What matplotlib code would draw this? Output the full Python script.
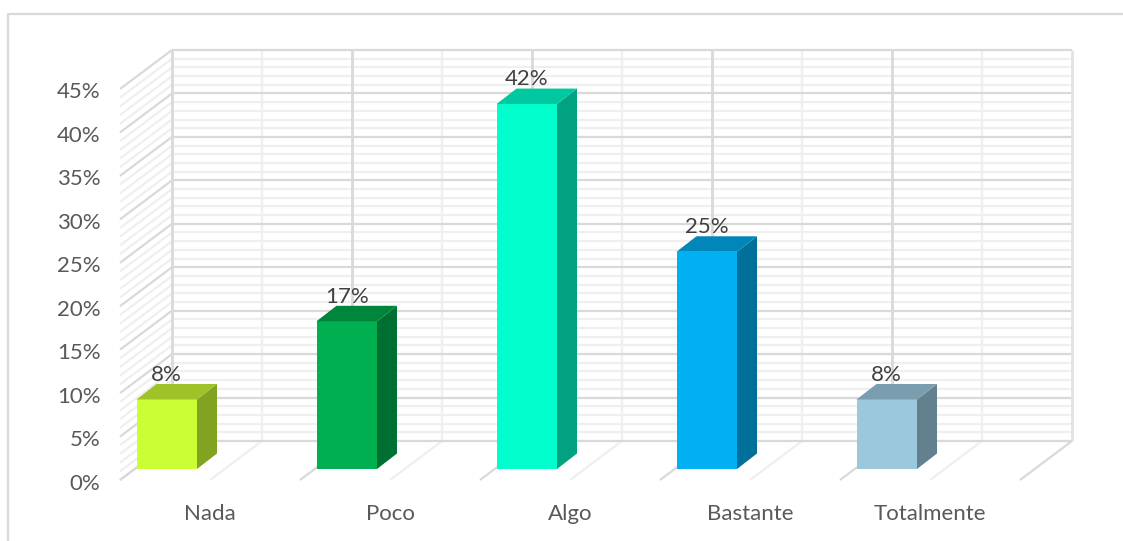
import matplotlib
matplotlib.use('Agg')
import matplotlib.pyplot as plt
import matplotlib.transforms as mtrans
from matplotlib.lines import Line2D

categories = ['Nada', 'Poco', 'Algo', 'Bastante', 'Totalmente']
values = [8, 17, 42, 25, 8]
value_labels = ['8%', '17%', '42%', '25%', '8%']
y_ticks = [0, 5, 10, 15, 20, 25, 30, 35, 40, 45]

front_colors = ['#CCFF33', '#00B050', '#00FFCC', '#00B0F0', '#9BC8DD']
top_colors = ['#9FC229', '#00853D', '#00C9A1', '#0086B8', '#7A9EAF']
side_colors = ['#82A321', '#006F32', '#00A282', '#006F99', '#63808E']

W, H = 1123, 541
PX_X = 180.0            # pixels per category
PX_Y = 391.0 / 45.0     # pixels per percent

fig = plt.figure(figsize=(W / 100, H / 100), dpi=100)
ax = fig.add_axes([120 / W, (H - 480) / H, 900 / W, 391 / H])
ax.set_xlim(0, 5)
ax.set_ylim(0, 45)
for s in ax.spines.values():
    s.set_visible(False)

# depth of the wall and of the bars, in data units
wall_dx, wall_dy = 52 / PX_X, 39 / PX_Y
bar_dx, bar_dy = 20 / PX_X, 15.5 / PX_Y
bar_gap = 16.5 / PX_X
bar_w = 60.5 / PX_X
bar_base = 11 / PX_Y

MAJOR = '#d9d9d9'
MINOR = '#efefef'


def wall_line(xs, ys, color, z, lw=1.6):
    ax.plot(xs, ys, color=color, lw=lw, clip_on=False, zorder=z, solid_capstyle='butt')


# minor grid: every 1% on back and side wall, half categories on back and floor
for p in range(0, 46):
    if p % 5:
        wall_line([wall_dx, 5 + wall_dx], [p + wall_dy, p + wall_dy], MINOR, 1)
        wall_line([0, wall_dx], [p, p + wall_dy], MINOR, 1)
for i in range(5):
    x = i + 0.5
    wall_line([x + wall_dx, x + wall_dx], [wall_dy, 45 + wall_dy], MINOR, 1.5)
    wall_line([x, x + wall_dx], [0, wall_dy], MINOR, 1.5)

# major grid
for p in y_ticks:
    wall_line([wall_dx, 5 + wall_dx], [p + wall_dy, p + wall_dy], MAJOR, 2)
    wall_line([0, wall_dx], [p, p + wall_dy], MAJOR, 2)
for i in range(6):
    color = MAJOR if i < 5 else '#e3e3e3'
    wall_line([i + wall_dx, i + wall_dx], [wall_dy, 45 + wall_dy], color, 2, lw=2.0)
    wall_line([i, i + wall_dx], [0, wall_dy], MAJOR, 2)

# bars
for i, v in enumerate(values):
    x0 = i + bar_gap
    x1 = x0 + bar_w
    y0 = bar_base
    y1 = bar_base + v
    ax.fill([x0, x1, x1, x0], [y0, y0, y1, y1], color=front_colors[i], lw=0, clip_on=False, zorder=3)
    ax.fill([x1, x1 + bar_dx, x1 + bar_dx, x1], [y0, y0 + bar_dy, y1 + bar_dy, y1],
            color=side_colors[i], lw=0, clip_on=False, zorder=3)
    ax.fill([x0, x1, x1 + bar_dx, x0 + bar_dx], [y1, y1, y1 + bar_dy, y1 + bar_dy],
            color=top_colors[i], lw=0, clip_on=False, zorder=3)
    ax.text((x0 + x1) / 2, y1 + bar_dy - 0.1, value_labels[i], ha='center', va='bottom',
            fontsize=16, family='Lato', color='#404040', zorder=4)

ax.set_xticks([i + 0.5 for i in range(5)])
ax.set_xticklabels(categories, family='Lato', fontsize=16, color='#595959')
ax.set_yticks(y_ticks)
ax.set_yticklabels([f'{t}%' for t in y_ticks], family='Lato', fontsize=16, color='#595959')
ax.tick_params(axis='x', length=0, pad=17)
ax.tick_params(axis='y', length=0, pad=14)

# y labels sit a touch below their gridline level
shift = mtrans.ScaledTranslation(0, -1.5 / 100, fig.dpi_scale_trans)
for lab in ax.get_yticklabels():
    lab.set_transform(lab.get_transform() + shift)

# chart frame, only top and left show in the crop
fig.add_artist(Line2D([8 / W, 8 / W, 1], [0, (H - 14) / H, (H - 14) / H], color='#d9d9d9', lw=1.6))

fig.savefig('out.png', dpi=100)
